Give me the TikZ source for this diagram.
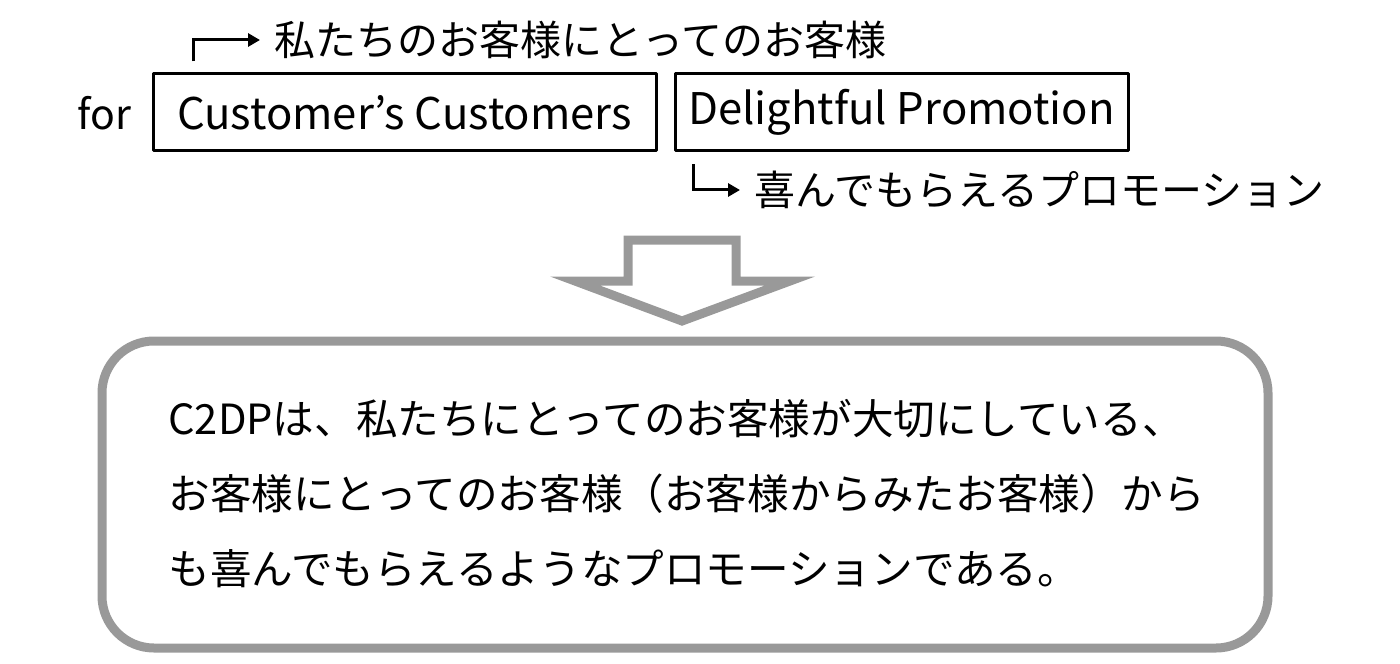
\documentclass[tikz,border=0pt]{standalone}
\usepackage{fontspec}
\setmainfont{Noto Sans CJK JP}
\usetikzlibrary{arrows.meta}
\definecolor{arrowgray}{RGB}{153,153,153}
\begin{document}
\begin{tikzpicture}[x=0.5pt,y=-0.5pt,line join=round,>={Triangle[length=6pt,width=6.5pt]},font=\fontsize{20.5}{24}\selectfont]
	\tikzset{box style/.style={draw,line width=1.5pt,inner sep=0pt,anchor=center,font=\fontsize{21.8}{24}\selectfont},
		note style/.style={anchor=west,inner sep=0pt},
		pointer style/.style={->,line width=1.5pt,line join=miter,shorten >=7pt}}
	\useasboundingbox (0,0) rectangle (1400,663);
	% top row
	\node[note style] (for) at (77,113) {for};
	\node[box style,minimum width=251.5pt,minimum height=38.5pt] (cc) at (404.5,112.5) {Customer’s Customers};
	\node[box style,minimum width=226.5pt,minimum height=38.5pt] (dp) at (901.5,112.5) {Delightful Promotion};
	\node[note style] (ccjp) at (274,40) {私たちのお客様にとってのお客様};
	\node[note style] (dpjp) at (754,190) {喜んでもらえるプロモーション};
	\draw[pointer style] ([xshift=21pt,yshift=5.5pt]cc.north west) |- (ccjp.west);
	\draw[pointer style] ([xshift=10pt,yshift=-6pt]dp.south west) |- (dpjp.west);
	% big arrow
	\draw[arrowgray,line width=4.5pt,line join=miter] (628,240) -- (736,240) -- (736,281) -- (790,281)
		-- (682,321) -- (575,281) -- (628,281) -- cycle;
	% summary
	\draw[arrowgray,line width=4.5pt,rounded corners=26pt] (102,341) rectangle (1268,648);
	\node[note style,align=left,font=\fontsize{20.8}{37.5}\selectfont] (sum) at (168,494)
		{C2DPは、私たちにとってのお客様が大切にしている、\\
		お客様にとってのお客様（お客様からみたお客様）から\\
		も喜んでもらえるようなプロモーションである。};
\end{tikzpicture}
\end{document}
